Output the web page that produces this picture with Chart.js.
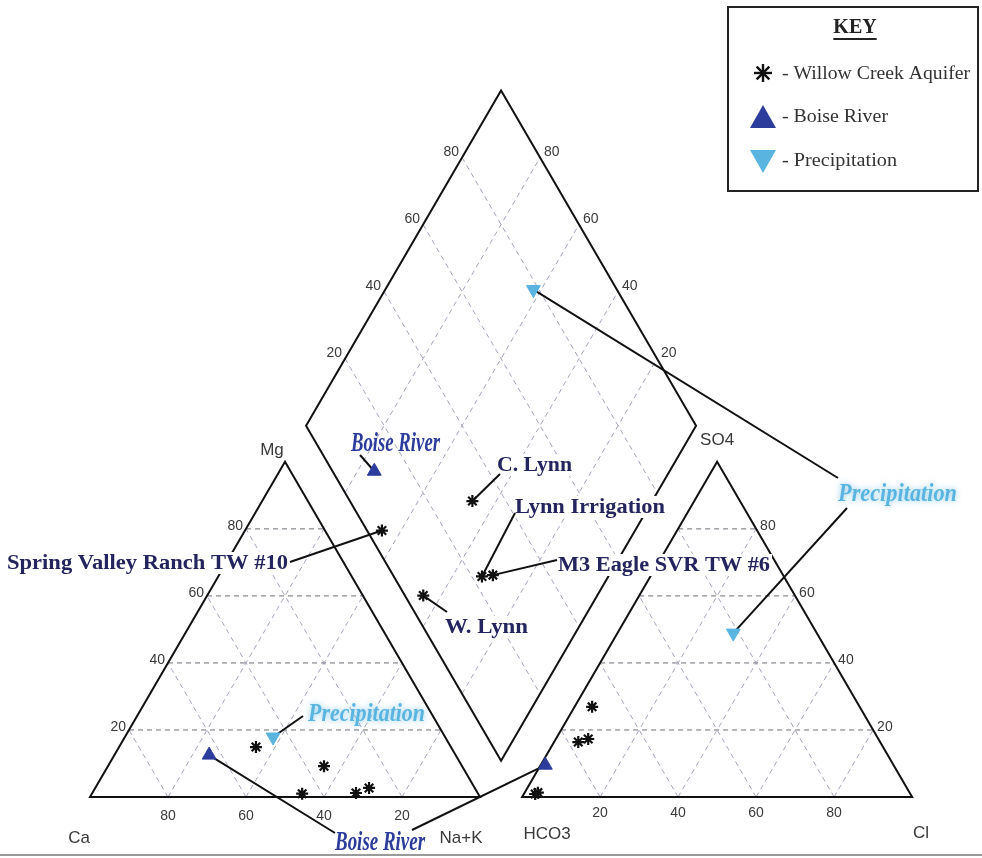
<!DOCTYPE html>
<html>
<head>
<meta charset="utf-8">
<script src="https://cdn.jsdelivr.net/npm/chart.js@4.4.0/dist/chart.umd.min.js"></script>
<style>
  html, body { margin: 0; padding: 0; background: #fff; }
  canvas { display: block; }
</style>
</head>
<body>
<canvas id="piper" width="982" height="858"></canvas>
<script>
// Willow Creek Aquifer wells (percent of meq)
const wellNames = ['Spring Valley Ranch TW #10', 'C. Lynn', 'Lynn Irrigation', 'M3 Eagle SVR TW #6', 'W. Lynn'];
const wellCa   = [50.0, 45.1, 31.2, 27.1, 35.4];
const wellMg   = [14.9,  1.0,  1.2,  2.7,  9.2];
const wellNaK  = [35.1, 53.9, 67.6, 70.2, 55.4];
const wellHCO3 = [96.2, 68.6, 77.4, 74.4, 95.3];
const wellSO4  = [ 0.9, 26.9, 16.4, 17.3,  1.3];
const wellCl   = [ 2.9,  4.5,  6.2,  8.3,  3.4];

// [Ca, Mg, Na+K] and [HCO3, SO4, Cl]
const riverCations  = [63.2, 12.5, 24.3];
const riverAnions   = [89.3,  9.5,  1.2];
const precipCations = [44.1, 17.9, 38.0];
const precipAnions  = [21.4, 48.9, 29.7];

const gridTicks = [20, 40, 60, 80];

const H = Math.sqrt(3) / 2;
const GAP = 10.8;

const cationPoint = (ca, mg, nak) => ({ x: nak + mg / 2, y: mg * H });
const anionPoint = (hco3, so4, cl) => ({ x: 100 + GAP + cl + so4 / 2, y: so4 * H });
const diamondPoint = (nak, hco3) => {
  const x2 = 200 + GAP - hco3;
  return { x: (nak + x2) / 2, y: (x2 - nak) * H };
};

const wellCation = wellNames.map((_, i) => cationPoint(wellCa[i], wellMg[i], wellNaK[i]));
const wellAnion = wellNames.map((_, i) => anionPoint(wellHCO3[i], wellSO4[i], wellCl[i]));
const wellDiamond = wellNames.map((_, i) => diamondPoint(wellNaK[i], wellHCO3[i]));
const riverCation = cationPoint(...riverCations);
const riverAnion = anionPoint(...riverAnions);
const riverDiamond = diamondPoint(riverCations[2], riverAnions[0]);
const precipCation = cationPoint(...precipCations);
const precipAnion = anionPoint(...precipAnions);
const precipDiamond = diamondPoint(precipCations[2], precipAnions[0]);

const NAVY = '#24245e';
const RIVER = '#2c3c9c';
const PRECIP = '#5ab4e0';

// annotation text boxes (left edge, vertical centre, width in px)
const notes = [
  { text: 'Boise River', x: 351, y: 443, w: 89, kind: 'river' },
  { text: 'C. Lynn', x: 497, y: 465, w: 75, kind: 'well' },
  { text: 'Lynn Irrigation', x: 515, y: 507, w: 150, kind: 'well' },
  { text: 'M3 Eagle SVR TW #6', x: 558, y: 565, w: 212, kind: 'well' },
  { text: 'W. Lynn', x: 445, y: 627, w: 83, kind: 'well' },
  { text: 'Spring Valley Ranch TW #10', x: 7, y: 563, w: 281, kind: 'well' },
  { text: 'Precipitation', x: 838, y: 493, w: 119, kind: 'precip' },
  { text: 'Precipitation', x: 308, y: 713, w: 117, kind: 'precip' },
  { text: 'Boise River', x: 335, y: 842, w: 90, kind: 'river' }
];

const leaders = [
  { from: [360, 455], to: riverDiamond },
  { from: [500, 474], to: wellDiamond[1] },
  { from: [515, 513], to: wellDiamond[2] },
  { from: [557, 560], to: wellDiamond[3] },
  { from: [447, 612], to: wellDiamond[4] },
  { from: [290, 562], to: wellDiamond[0] },
  { from: [838, 478], to: precipDiamond },
  { from: [847, 508], to: precipAnion },
  { from: [303, 716], to: precipCation },
  { from: [335, 833], to: riverCation },
  { from: [412, 830], to: riverAnion }
];

const fitText = (ctx, text, x, y, w) => {
  ctx.save();
  ctx.translate(x, y);
  ctx.scale(w / ctx.measureText(text).width, 1);
  ctx.fillText(text, 0, 0);
  ctx.restore();
};

const piperPlugin = {
  id: 'piper',
  beforeDatasetsDraw(chart) {
    const { ctx, scales: { x, y } } = chart;
    const px = (p) => [x.getPixelForValue(p.x), y.getPixelForValue(p.y)];
    const seg = (a, b) => {
      const [x1, y1] = px(a), [x2, y2] = px(b);
      ctx.beginPath(); ctx.moveTo(x1, y1); ctx.lineTo(x2, y2); ctx.stroke();
    };
    const poly = (pts) => {
      ctx.beginPath();
      pts.forEach((p, i) => { const [a, b] = px(p); i ? ctx.lineTo(a, b) : ctx.moveTo(a, b); });
      ctx.closePath(); ctx.stroke();
    };
    ctx.save();

    // grid
    ctx.lineWidth = 1;
    ctx.setLineDash([5, 4]);
    [0, 100 + GAP].forEach(off => {
      gridTicks.forEach(v => {
        ctx.strokeStyle = '#6e6e78';
        seg({ x: off + v / 2, y: v * H }, { x: off + 100 - v / 2, y: v * H });
        ctx.strokeStyle = '#a4a4bc';
        seg({ x: off + 100 - v, y: 0 }, { x: off + (100 - v) / 2, y: (100 - v) * H });
        seg({ x: off + v, y: 0 }, { x: off + v + (100 - v) / 2, y: (100 - v) * H });
      });
    });
    ctx.strokeStyle = '#a4a4bc';
    gridTicks.forEach(v => {
      seg(diamondPoint(v, 100), diamondPoint(v, 0));
      seg(diamondPoint(0, v), diamondPoint(100, v));
    });
    ctx.setLineDash([]);

    // outlines
    ctx.strokeStyle = '#111';
    ctx.lineWidth = 2;
    poly([{ x: 0, y: 0 }, { x: 100, y: 0 }, { x: 50, y: 100 * H }]);
    poly([{ x: 100 + GAP, y: 0 }, { x: 200 + GAP, y: 0 }, { x: 150 + GAP, y: 100 * H }]);
    poly([diamondPoint(100, 100), diamondPoint(0, 100), diamondPoint(0, 0), diamondPoint(100, 0)]);

    // tick labels
    ctx.font = '14px "Liberation Sans", Arial, sans-serif';
    ctx.fillStyle = '#3a3a3a';
    ctx.textBaseline = 'middle';
    gridTicks.forEach(v => {
      let p;
      ctx.textAlign = 'right';
      p = px({ x: v / 2, y: v * H }); ctx.fillText(String(v), p[0] - 3, p[1] - 3);
      p = px(diamondPoint(0, 100 - v)); ctx.fillText(String(v), p[0] - 3, p[1] - 5);
      ctx.textAlign = 'left';
      p = px({ x: 100 + GAP + 100 - v / 2, y: v * H }); ctx.fillText(String(v), p[0] + 4, p[1] - 3);
      p = px(diamondPoint(100 - v, 0)); ctx.fillText(String(v), p[0] + 4, p[1] - 5);
      ctx.textAlign = 'center';
      p = px({ x: 100 - v, y: 0 }); ctx.fillText(String(v), p[0], p[1] + 19);
      p = px({ x: 100 + GAP + v, y: 0 }); ctx.fillText(String(v), p[0], p[1] + 16);
    });

    // corner labels
    ctx.font = '17px "Liberation Sans", Arial, sans-serif';
    ctx.textAlign = 'center';
    const corner = (t, p, dx, dy) => { const q = px(p); ctx.fillText(t, q[0] + dx, q[1] + dy); };
    corner('Ca', { x: 0, y: 0 }, -11, 41);
    corner('Na+K', { x: 100, y: 0 }, -19, 41);
    corner('Mg', { x: 50, y: 100 * H }, -13, -12);
    corner('HCO3', { x: 100 + GAP, y: 0 }, 25, 37);
    corner('Cl', { x: 200 + GAP, y: 0 }, 9, 36);
    corner('SO4', { x: 150 + GAP, y: 100 * H }, 0, -22);

    // annotation backgrounds
    ctx.fillStyle = '#fff';
    notes.filter(n => n.kind === 'well').forEach(n => ctx.fillRect(n.x - 2, n.y - 11, n.w + 4, 22));

    // leader lines
    ctx.strokeStyle = '#111';
    ctx.lineWidth = 2;
    leaders.forEach(l => {
      const [tx, ty] = px(l.to);
      ctx.beginPath(); ctx.moveTo(l.from[0], l.from[1]); ctx.lineTo(tx, ty); ctx.stroke();
    });

    // annotation text
    ctx.textAlign = 'left';
    ctx.textBaseline = 'middle';
    notes.forEach(n => {
      ctx.save();
      if (n.kind === 'well') {
        ctx.font = 'bold 20px "Liberation Serif", "Times New Roman", serif';
        ctx.fillStyle = NAVY;
      } else if (n.kind === 'river') {
        ctx.font = 'italic bold 27px "Liberation Serif", "Times New Roman", serif';
        ctx.fillStyle = RIVER;
      } else {
        ctx.font = 'italic bold 26px "Liberation Serif", "Times New Roman", serif';
        ctx.fillStyle = PRECIP;
        ctx.shadowColor = 'rgba(90, 180, 224, 0.7)';
        ctx.shadowBlur = 6;
      }
      fitText(ctx, n.text, n.x, n.y + 1, n.w);
      ctx.restore();
    });

    // frame line at the bottom
    ctx.strokeStyle = '#9a9a9a';
    ctx.lineWidth = 2;
    ctx.beginPath(); ctx.moveTo(0, 855); ctx.lineTo(982, 855); ctx.stroke();
    ctx.restore();
  },
  afterDraw(chart) {
    const { ctx } = chart;
    ctx.save();
    // key box
    ctx.fillStyle = '#fff';
    ctx.fillRect(728, 7, 250, 184);
    ctx.strokeStyle = '#222';
    ctx.lineWidth = 2;
    ctx.strokeRect(728, 7, 250, 184);
    ctx.fillStyle = '#222';
    ctx.font = 'bold 20px "Liberation Serif", "Times New Roman", serif';
    ctx.textAlign = 'center';
    ctx.textBaseline = 'middle';
    ctx.fillText('KEY', 855, 28);
    const kw = ctx.measureText('KEY').width;
    ctx.fillRect(855 - kw / 2, 38, kw, 2);

    // star
    ctx.strokeStyle = '#111';
    ctx.lineWidth = 2.4;
    for (let k = 0; k < 4; k++) {
      const a = k * Math.PI / 4;
      ctx.beginPath();
      ctx.moveTo(763 - 9 * Math.cos(a), 73 - 9 * Math.sin(a));
      ctx.lineTo(763 + 9 * Math.cos(a), 73 + 9 * Math.sin(a));
      ctx.stroke();
    }
    // up triangle
    ctx.fillStyle = RIVER;
    ctx.beginPath(); ctx.moveTo(763, 105); ctx.lineTo(776, 128); ctx.lineTo(750, 128); ctx.closePath(); ctx.fill();
    // down triangle
    ctx.fillStyle = PRECIP;
    ctx.beginPath(); ctx.moveTo(750, 150); ctx.lineTo(776, 150); ctx.lineTo(763, 173); ctx.closePath(); ctx.fill();

    ctx.fillStyle = '#333';
    ctx.font = '18px "Liberation Serif", "Times New Roman", serif';
    ctx.textAlign = 'left';
    fitText(ctx, '- Willow Creek Aquifer', 782, 74, 188);
    fitText(ctx, '- Boise River', 782, 117, 106);
    fitText(ctx, '- Precipitation', 782, 161, 115);
    ctx.restore();
  }
};

new Chart(document.getElementById('piper').getContext('2d'), {
  type: 'scatter',
  data: {
    datasets: [
      {
        label: 'Willow Creek Aquifer',
        data: [...wellCation, ...wellAnion, ...wellDiamond],
        pointStyle: 'star',
        pointRadius: 6,
        borderWidth: 2.2,
        borderColor: '#111',
        backgroundColor: '#111'
      },
      {
        label: 'Boise River',
        data: [riverCation, riverAnion, riverDiamond],
        pointStyle: 'triangle',
        pointRadius: 8,
        borderWidth: 1,
        borderColor: RIVER,
        backgroundColor: RIVER
      },
      {
        label: 'Precipitation',
        data: [precipCation, precipAnion, precipDiamond],
        pointStyle: 'triangle',
        pointRotation: 180,
        pointRadius: 8,
        borderWidth: 1,
        borderColor: PRECIP,
        backgroundColor: PRECIP
      }
    ]
  },
  options: {
    responsive: false,
    animation: false,
    layout: { padding: 0, autoPadding: false },
    plugins: { legend: { display: false }, tooltip: { enabled: false }, title: { display: false } },
    scales: {
      x: { type: 'linear', display: false, min: -90 / 3.9, max: (982 - 90) / 3.9 },
      y: { type: 'linear', display: false, min: -(858 - 797) / 3.87, max: 797 / 3.87 }
    }
  },
  plugins: [piperPlugin]
});
</script>
</body>
</html>
